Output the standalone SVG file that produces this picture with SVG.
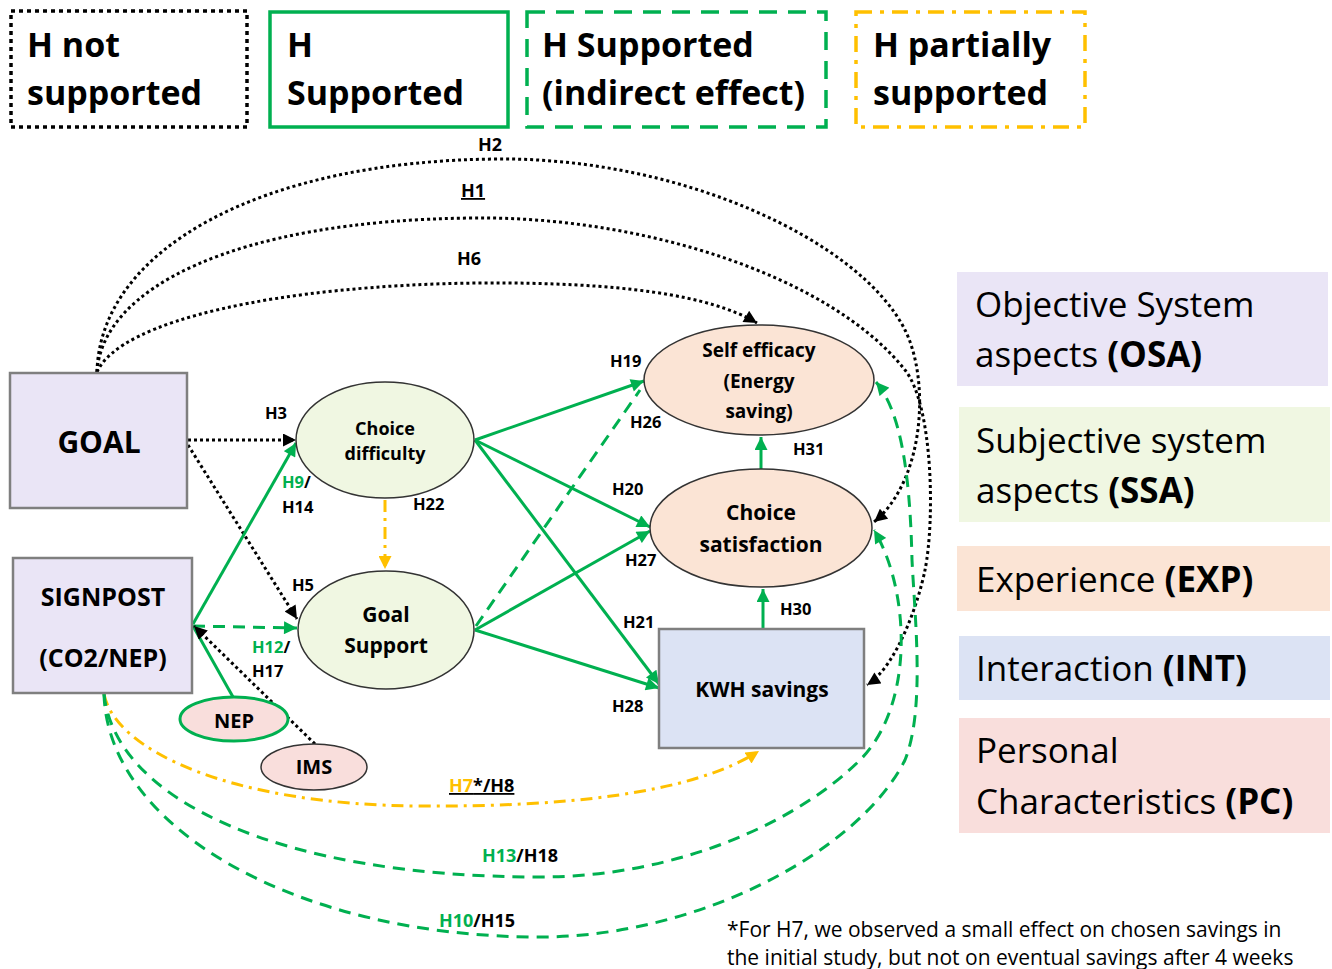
<svg xmlns="http://www.w3.org/2000/svg" width="1332" height="969" viewBox="0 0 1332 969">
<style>
text{font-family:"Open Sans","Liberation Sans",sans-serif;fill:#000}
.lg{font-size:34px;font-weight:bold}
.rl{font-size:35px}
.b{font-weight:bold}
.nd{font-weight:bold;text-anchor:middle}
.el{font-size:16.5px;font-weight:bold}
.et{font-size:18px;font-weight:bold}
.g{fill:#00B050}
.o{fill:#FFC000}
.dot{fill:none;stroke:#000;stroke-width:3;stroke-dasharray:3 3}
.sol{fill:none;stroke:#00B050;stroke-width:3}
.dsh{fill:none;stroke:#00B050;stroke-width:3;stroke-dasharray:12 8}
.dd{fill:none;stroke:#FFC000;stroke-width:3;stroke-dasharray:12 6 3 6}
.osa{fill:#EAE5F6}
.ssa{fill:#F0F7E2}
.exp{fill:#FBE4D5}
.int{fill:#DCE3F4}
.pc{fill:#F9DEDC}
.box{stroke:#7F7F7F;stroke-width:2.5}
.ell{stroke:#333;stroke-width:1.5}
</style>
<defs>
<marker id="ab" viewBox="0 0 10 10" refX="10" refY="5" markerWidth="14" markerHeight="13" markerUnits="userSpaceOnUse" orient="auto"><path d="M0,0 L10,5 L0,10 z" fill="#000"/></marker>
<marker id="ag" viewBox="0 0 10 10" refX="10" refY="5" markerWidth="14" markerHeight="13" markerUnits="userSpaceOnUse" orient="auto"><path d="M0,0 L10,5 L0,10 z" fill="#00B050"/></marker>
<marker id="ao" viewBox="0 0 10 10" refX="10" refY="5" markerWidth="14" markerHeight="13" markerUnits="userSpaceOnUse" orient="auto"><path d="M0,0 L10,5 L0,10 z" fill="#FFC000"/></marker>
</defs>
<rect width="1332" height="969" fill="#fff"/>

<g id="legend-top">
<rect x="11" y="11" width="236" height="116" fill="none" stroke="#000" stroke-width="3.5" stroke-dasharray="4 4"/>
<text class="lg" x="27" y="57">H not</text>
<text class="lg" x="27" y="105">supported</text>
<rect x="270" y="12" width="238" height="115" fill="none" stroke="#00B050" stroke-width="3.5"/>
<text class="lg" x="287" y="57">H</text>
<text class="lg" x="287" y="105">Supported</text>
<rect x="527" y="12" width="299" height="115" fill="none" stroke="#00B050" stroke-width="3.5" stroke-dasharray="18 11"/>
<text class="lg" x="542" y="57">H Supported</text>
<text class="lg" x="542" y="105">(indirect effect)</text>
<rect x="856" y="12" width="229" height="115" fill="none" stroke="#FFC000" stroke-width="3.5" stroke-dasharray="16 8 4 8"/>
<text class="lg" x="873" y="57">H partially</text>
<text class="lg" x="873" y="105">supported</text>
</g>

<g id="legend-right">
<rect class="osa" x="957" y="272" width="371" height="114"/>
<text class="rl" x="975" y="317">Objective System</text>
<text class="rl" x="975" y="367">aspects <tspan class="b">(OSA)</tspan></text>
<rect class="ssa" x="959" y="407" width="371" height="115"/>
<text class="rl" x="976" y="453">Subjective system</text>
<text class="rl" x="976" y="503">aspects <tspan class="b">(SSA)</tspan></text>
<rect class="exp" x="957" y="546" width="373" height="65"/>
<text class="rl" x="976" y="592">Experience <tspan class="b">(EXP)</tspan></text>
<rect class="int" x="959" y="636" width="371" height="64"/>
<text class="rl" x="976" y="681">Interaction <tspan class="b">(INT)</tspan></text>
<rect class="pc" x="959" y="718" width="371" height="115"/>
<text class="rl" x="976" y="763">Personal</text>
<text class="rl" x="976" y="814">Characteristics <tspan class="b">(PC)</tspan></text>
</g>

<g id="connectors">
<path class="dot" d="M97,372 C100,250 260,160 500,159 C680,158 860,240 905,330 C930,380 925,480 874,522" marker-end="url(#ab)"/>
<path class="dot" d="M97,372 C102,290 230,220 474,218 C640,216 830,275 905,370 C933,405 935,520 925,570 C919,600 898,665 867,685" marker-end="url(#ab)"/>
<path class="dot" d="M97,372 C120,320 280,285 480,283 C620,282 710,295 757,323" marker-end="url(#ab)"/>
<path class="dot" d="M188,440 L296,440" marker-end="url(#ab)"/>
<path class="dot" d="M188,445 L297,619" marker-end="url(#ab)"/>
<path class="sol" d="M193,624 L296,443" marker-end="url(#ag)"/>
<path class="dsh" d="M193,626 L297,628" marker-end="url(#ag)"/>
<path class="sol" d="M233,697 L193,626"/>
<path class="dot" d="M315,744 L194,626" marker-end="url(#ab)"/>
<path class="dd" d="M385,500 L385,569" marker-end="url(#ao)"/>
<path class="sol" d="M475,440 L644,381" marker-end="url(#ag)"/>
<path class="sol" d="M475,440 L650,527" marker-end="url(#ag)"/>
<path class="sol" d="M475,440 L659,684" marker-end="url(#ag)"/>
<path class="dsh" d="M476,626 L640,390"/>
<path class="sol" d="M475,630 L650,531" marker-end="url(#ag)"/>
<path class="sol" d="M475,630 L659,688" marker-end="url(#ag)"/>
<path class="sol" d="M761,469 L761,437" marker-end="url(#ag)"/>
<path class="sol" d="M763,629 L763,589" marker-end="url(#ag)"/>
<path class="dd" d="M104,694 C115,750 230,805 420,806 C560,807 690,795 759,751" marker-end="url(#ao)"/>
<path class="dsh" d="M104,694 C115,800 280,877 540,877 C680,877 800,820 860,760 C915,705 910,590 874,530" marker-end="url(#ag)"/>
<path class="dsh" d="M104,694 C108,830 300,937 540,937 C700,937 860,850 905,760 C925,710 915,620 912,560 C910,470 900,410 876,382" marker-end="url(#ag)"/>
</g>

<g id="edge-labels">
<text class="et" x="478" y="151">H2</text>
<text class="et" x="461" y="197" text-decoration="underline">H1</text>
<text class="et" x="457" y="265">H6</text>
<text class="el" x="265" y="419">H3</text>
<text class="el" x="282" y="488"><tspan class="g">H9</tspan>/</text>
<text class="el" x="282" y="513">H14</text>
<text class="el" x="413" y="510">H22</text>
<text class="el" x="292" y="591">H5</text>
<text class="el" x="252" y="653"><tspan class="g">H12</tspan>/</text>
<text class="el" x="252" y="677">H17</text>
<text class="el" x="610" y="367">H19</text>
<text class="el" x="630" y="428">H26</text>
<text class="el" x="612" y="495">H20</text>
<text class="el" x="625" y="566">H27</text>
<text class="el" x="623" y="628">H21</text>
<text class="el" x="612" y="712">H28</text>
<text class="el" x="793" y="455">H31</text>
<text class="el" x="780" y="615">H30</text>
<text class="et" x="449" y="792" text-decoration="underline"><tspan class="o">H7</tspan>*/H8</text>
<text class="et" x="482" y="862"><tspan class="g">H13</tspan>/H18</text>
<text class="et" x="439" y="927"><tspan class="g">H10</tspan>/H15</text>
</g>

<g id="node-goal">
<rect class="osa box" x="10" y="373" width="177" height="135"/>
<text class="nd" x="99" y="453" font-size="30">GOAL</text>
</g>
<g id="node-signpost">
<rect class="osa box" x="13" y="558" width="179" height="135"/>
<text class="nd" x="103" y="606" font-size="25">SIGNPOST</text>
<text class="nd" x="103" y="667" font-size="25">(CO2/NEP)</text>
</g>
<g id="node-choice-difficulty">
<ellipse class="ssa ell" cx="385" cy="440" rx="89" ry="58"/>
<text class="nd" x="385" y="435" font-size="18">Choice</text>
<text class="nd" x="385" y="460" font-size="18">difficulty</text>
</g>
<g id="node-goal-support">
<ellipse class="ssa ell" cx="386" cy="630" rx="88" ry="59"/>
<text class="nd" x="386" y="622" font-size="21">Goal</text>
<text class="nd" x="386" y="653" font-size="21">Support</text>
</g>
<g id="node-self-efficacy">
<ellipse class="exp ell" cx="759" cy="380" rx="115" ry="55"/>
<text class="nd" x="759" y="357" font-size="19">Self efficacy</text>
<text class="nd" x="759" y="388" font-size="19">(Energy</text>
<text class="nd" x="759" y="418" font-size="19">saving)</text>
</g>
<g id="node-choice-satisfaction">
<ellipse class="exp ell" cx="761" cy="528" rx="111" ry="59"/>
<text class="nd" x="761" y="520" font-size="21">Choice</text>
<text class="nd" x="761" y="552" font-size="21">satisfaction</text>
</g>
<g id="node-kwh">
<rect class="int box" x="659" y="629" width="205" height="119"/>
<text class="nd" x="762" y="697" font-size="21">KWH savings</text>
</g>
<g id="node-nep">
<ellipse class="pc" cx="234" cy="719" rx="54" ry="22" stroke="#00B050" stroke-width="3"/>
<text class="nd" x="234" y="728" font-size="20">NEP</text>
</g>
<g id="node-ims">
<ellipse class="pc ell" cx="314" cy="767" rx="53" ry="23"/>
<text class="nd" x="314" y="774" font-size="20">IMS</text>
</g>

<g id="footnote">
<text x="727" y="937" font-size="21">*For H7, we observed a small effect on chosen savings in</text>
<text x="727" y="965" font-size="21">the initial study, but not on eventual savings after 4 weeks</text>
</g>
</svg>
